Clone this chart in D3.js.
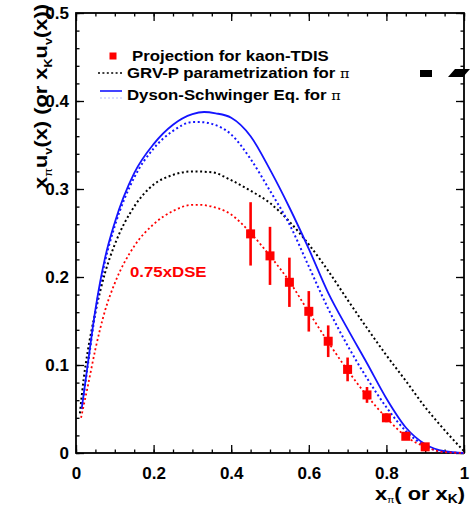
<!DOCTYPE html>
<html>
<head>
<meta charset="utf-8">
<script src="https://cdn.jsdelivr.net/npm/d3@7/dist/d3.min.js"></script>
<style>
  html, body { margin: 0; padding: 0; background: #fff; }
  svg { display: block; }
  text { font-family: "Liberation Sans", Arial, Helvetica, sans-serif; font-weight: bold; }
</style>
</head>
<body>
<svg id="chart" width="470" height="510"></svg>
<script>
// ---------------- data ----------------
const xTickValues = [0, 0.2, 0.4, 0.6, 0.8, 1];
const xTickLabels = ["0", "0.2", "0.4", "0.6", "0.8", "1"];
const yTickValues = [0, 0.1, 0.2, 0.3, 0.4, 0.5];
const yTickLabels = ["0", "0.1", "0.2", "0.3", "0.4", "0.5"];

// Dyson-Schwinger (solid blue)
const dseSolidX = [0.015, 0.03, 0.05, 0.075, 0.1, 0.15, 0.2, 0.25, 0.3, 0.33, 0.36, 0.4, 0.45, 0.5, 0.55, 0.6, 0.65, 0.7, 0.75, 0.8, 0.85, 0.9, 0.95, 1.0];
const dseSolidY = [0.051, 0.100, 0.163, 0.222, 0.262, 0.318, 0.351, 0.373, 0.385, 0.3875, 0.386, 0.381, 0.360, 0.322, 0.279, 0.232, 0.182, 0.141, 0.102, 0.062, 0.029, 0.010, 0.002, 0.0];

// Dyson-Schwinger (dotted blue)
const dseDotX = [0.015, 0.03, 0.05, 0.075, 0.1, 0.15, 0.2, 0.25, 0.3, 0.32, 0.35, 0.4, 0.45, 0.5, 0.55, 0.6, 0.65, 0.7, 0.75, 0.8, 0.85, 0.9, 0.95, 1.0];
const dseDotY = [0.050, 0.098, 0.160, 0.218, 0.258, 0.313, 0.346, 0.366, 0.376, 0.376, 0.374, 0.362, 0.334, 0.298, 0.260, 0.212, 0.164, 0.122, 0.085, 0.052, 0.025, 0.008, 0.001, 0.0];

// 0.75 x DSE (dotted red)
const dse075X = [0.013, 0.03, 0.05, 0.075, 0.1, 0.15, 0.2, 0.25, 0.3, 0.32, 0.35, 0.4, 0.45, 0.5, 0.55, 0.6, 0.65, 0.7, 0.75, 0.8, 0.85, 0.9, 0.95, 1.0];
const dse075Y = [0.040, 0.075, 0.118, 0.162, 0.193, 0.235, 0.260, 0.275, 0.282, 0.282, 0.280, 0.271, 0.250, 0.224, 0.195, 0.160, 0.126, 0.094, 0.065, 0.040, 0.019, 0.007, 0.001, 0.0];

// GRV-P parametrization (dotted black)
const grvX = [0.01, 0.02, 0.03, 0.05, 0.075, 0.1, 0.15, 0.2, 0.25, 0.3, 0.35, 0.4, 0.45, 0.5, 0.55, 0.6, 0.65, 0.7, 0.75, 0.8, 0.85, 0.9, 0.95, 1.0];
const grvY = [0.045, 0.085, 0.115, 0.160, 0.205, 0.237, 0.280, 0.305, 0.316, 0.320, 0.319, 0.310, 0.298, 0.284, 0.263, 0.237, 0.207, 0.174, 0.142, 0.111, 0.082, 0.052, 0.026, 0.002];

// Projection for kaon-TDIS
const projX = [0.45, 0.5, 0.55, 0.6, 0.65, 0.7, 0.75, 0.8, 0.85, 0.9];
const projY = [0.249, 0.224, 0.194, 0.161, 0.127, 0.095, 0.066, 0.040, 0.019, 0.007];
const projErr = [0.036, 0.033, 0.028, 0.023, 0.018, 0.0135, 0.009, 0.005, 0.003, 0.002];

const legendLabels = ["Projection for kaon-TDIS", "GRV-P parametrization for ", "Dyson-Schwinger Eq. for "];

// ---------------- layout ----------------
const svg = d3.select("#chart");
const L = 76, R = 464, T = 13, B = 453;
const x = d3.scaleLinear().domain([0, 1]).range([L, R]);
const y = d3.scaleLinear().domain([0, 0.5]).range([B, T]);

const RED = "#ff0000", BLUE = "#1414ff", BLACK = "#000";

// ticks
function styleAxis(g) {
  g.select(".domain").remove();
  g.selectAll("line").attr("stroke", "#000").attr("stroke-width", 1.3);
}
const xMinor = d3.range(0, 1.0001, 0.05);
const yMinor = d3.range(0, 0.5001, 0.02);

svg.append("g").attr("transform", `translate(0,${B})`)
  .call(d3.axisBottom(x).tickValues(xMinor).tickSize(-3.5).tickFormat(""))
  .call(styleAxis);
svg.append("g").attr("transform", `translate(0,${T})`)
  .call(d3.axisTop(x).tickValues(xMinor).tickSize(-3.5).tickFormat(""))
  .call(styleAxis);
svg.append("g").attr("transform", `translate(${L},0)`)
  .call(d3.axisLeft(y).tickValues(yMinor).tickSize(-3.5).tickFormat(""))
  .call(styleAxis);
svg.append("g").attr("transform", `translate(${R},0)`)
  .call(d3.axisRight(y).tickValues(yMinor).tickSize(-3.5).tickFormat(""))
  .call(styleAxis);

const xAx = svg.append("g").attr("transform", `translate(0,${B})`)
  .call(d3.axisBottom(x).tickValues(xTickValues).tickSize(-8).tickPadding(14)
    .tickFormat((d, i) => xTickLabels[i]))
  .call(styleAxis);
svg.append("g").attr("transform", `translate(0,${T})`)
  .call(d3.axisTop(x).tickValues(xTickValues).tickSize(-8).tickFormat(""))
  .call(styleAxis);
const yAx = svg.append("g").attr("transform", `translate(${L},0)`)
  .call(d3.axisLeft(y).tickValues(yTickValues).tickSize(-8).tickPadding(7)
    .tickFormat((d, i) => yTickLabels[i]))
  .call(styleAxis);
svg.append("g").attr("transform", `translate(${R},0)`)
  .call(d3.axisRight(y).tickValues(yTickValues).tickSize(-8).tickFormat(""))
  .call(styleAxis);

[xAx, yAx].forEach(g => g.selectAll("text")
  .attr("fill", "#000").style("font-size", "17px").style("font-weight", "bold")
  .style("font-family", '"Liberation Sans", Arial, sans-serif'));

// frame
svg.append("rect").attr("x", L).attr("y", T).attr("width", R - L).attr("height", B - T)
  .attr("fill", "none").attr("stroke", "#000").attr("stroke-width", 1.8);

// curves
const line = d3.line().x(d => x(d[0])).y(d => y(d[1])).curve(d3.curveMonotoneX);
const zip = (a, b) => a.map((v, i) => [v, b[i]]);

const plot = svg.append("g");
plot.append("path").datum(zip(grvX, grvY)).attr("d", line)
  .attr("fill", "none").attr("stroke", BLACK).attr("stroke-width", 2).attr("stroke-dasharray", "2,2.6");
plot.append("path").datum(zip(dseDotX, dseDotY)).attr("d", line)
  .attr("fill", "none").attr("stroke", BLUE).attr("stroke-width", 2).attr("stroke-dasharray", "2,2.6");
plot.append("path").datum(zip(dseSolidX, dseSolidY)).attr("d", line)
  .attr("fill", "none").attr("stroke", BLUE).attr("stroke-width", 1.8);
plot.append("path").datum(zip(dse075X, dse075Y)).attr("d", line)
  .attr("fill", "none").attr("stroke", RED).attr("stroke-width", 1.8).attr("stroke-dasharray", "2,2.6");

// projection points
const pts = plot.append("g");
projX.forEach((px, i) => {
  pts.append("line")
    .attr("x1", x(px)).attr("x2", x(px))
    .attr("y1", y(projY[i] - projErr[i])).attr("y2", y(projY[i] + projErr[i]))
    .attr("stroke", RED).attr("stroke-width", 2.6);
  pts.append("rect")
    .attr("x", x(px) - 4.5).attr("y", y(projY[i]) - 4.5)
    .attr("width", 9).attr("height", 9).attr("fill", RED);
});

// label 0.75xDSE
svg.append("text").attr("transform", "translate(130,277) scale(1.2,1)")
  .attr("fill", RED).style("font-size", "14px").text("0.75xDSE");

// legend
const lg = svg.append("g");
lg.append("rect").attr("x", 109.5).attr("y", 52.5).attr("width", 7).attr("height", 7).attr("fill", RED);
lg.append("text").attr("transform", "translate(132,61) scale(1.2,1)")
  .style("font-size", "14px").attr("fill", "#000").text(legendLabels[0]);

lg.append("line").attr("x1", 98).attr("x2", 122).attr("y1", 73).attr("y2", 73)
  .attr("stroke", BLACK).attr("stroke-width", 1.6).attr("stroke-dasharray", "2,2.4");
const t2 = lg.append("text").attr("transform", "translate(127,78) scale(1.2,1)")
  .style("font-size", "14px").attr("fill", "#000");
t2.append("tspan").text(legendLabels[1]);
t2.append("tspan").style("font-weight", "normal").style("font-size", "12px")
  .style("font-family", '"DejaVu Serif", serif').text("π");

lg.append("line").attr("x1", 100).attr("x2", 122).attr("y1", 91).attr("y2", 91)
  .attr("stroke", BLUE).attr("stroke-width", 1.6);
lg.append("line").attr("x1", 100).attr("x2", 122).attr("y1", 98).attr("y2", 98)
  .attr("stroke", "#b8bcff").attr("stroke-width", 1).attr("stroke-dasharray", "2,2");
const t3 = lg.append("text").attr("transform", "translate(127,100) scale(1.2,1)")
  .style("font-size", "14px").attr("fill", "#000");
t3.append("tspan").text(legendLabels[2]);
t3.append("tspan").style("font-weight", "normal").style("font-size", "12px")
  .style("font-family", '"DejaVu Serif", serif').text("π");

// axis titles
const yt = svg.append("text").attr("transform", "translate(47,4) rotate(-90) scale(1.15,1)")
  .attr("text-anchor", "end").style("font-size", "19px").attr("fill", "#000");
yt.append("tspan").text("x");
yt.append("tspan").attr("dy", 5).style("font-size", "11px").style("font-weight", "normal").text("π");
yt.append("tspan").attr("dy", -5).text("u");
yt.append("tspan").attr("dy", 5).style("font-size", "11px").text("v");
yt.append("tspan").attr("dy", -5).text("(x) (or x");
yt.append("tspan").attr("dy", 5).style("font-size", "11px").text("K");
yt.append("tspan").attr("dy", -5).text("u");
yt.append("tspan").attr("dy", 5).style("font-size", "11px").text("v");
yt.append("tspan").attr("dy", -5).text("(x))");

const xt = svg.append("text").attr("transform", "translate(465,500) scale(1.15,1)")
  .attr("text-anchor", "end").style("font-size", "19px").attr("fill", "#000");
xt.append("tspan").text("x");
xt.append("tspan").attr("dy", 3).style("font-size", "9px").style("font-weight", "normal").text("π");
xt.append("tspan").attr("dy", -3).text("( or x");
xt.append("tspan").attr("dy", 3).style("font-size", "12px").text("K");
xt.append("tspan").attr("dy", -3).text(")");

// cropping artefacts at top right of the original figure
svg.append("rect").attr("x", 420).attr("y", 70).attr("width", 12).attr("height", 7).attr("fill", "#000");
svg.append("path").attr("d", "M448,77 L455,69 L470,69 L463,77 Z").attr("fill", "#000");
</script>
</body>
</html>
